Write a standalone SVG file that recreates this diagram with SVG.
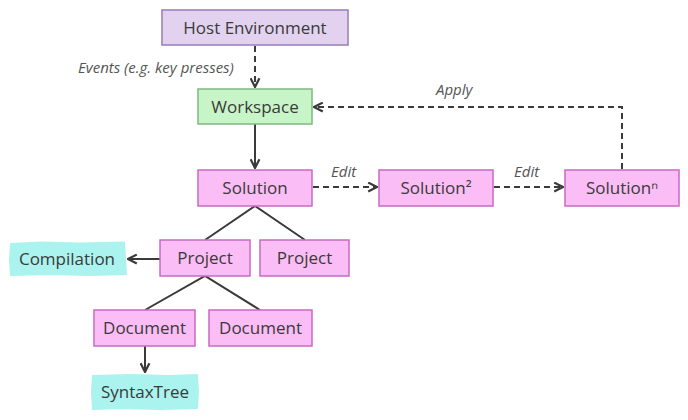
<svg xmlns="http://www.w3.org/2000/svg" width="688" height="420" viewBox="0 0 688 420">
<defs>
<style>
.lbl{font-family:"Open Sans","Noto Sans","DejaVu Sans",sans-serif;font-size:17px;fill:#3a3a3a;text-anchor:middle;}
.it{font-family:"Open Sans","Noto Sans","DejaVu Sans",sans-serif;font-size:15px;font-style:italic;fill:#555;}
.host{fill:#e2d2f0;stroke:#9a7bb8;stroke-width:1.5;}
.ws{fill:#c8f5c8;stroke:#7fb87f;stroke-width:1.5;}
.pink{fill:#fbbdf5;stroke:#c86ac4;stroke-width:1.5;}
.cyan{fill:#aaf3ee;stroke:#aaf3ee;stroke-width:2;stroke-linejoin:round;}
.c{fill:none;stroke:#3a3a3a;stroke-width:2;}
.d{stroke-dasharray:6,4;}
</style>
<marker id="ah" viewBox="0 0 10 10" refX="9" refY="5" markerWidth="5.5" markerHeight="5.5" orient="auto-start-reverse" markerUnits="strokeWidth">
<path d="M1,1 L9,5 L1,9" fill="none" stroke="#3a3a3a" stroke-width="2"/>
</marker>
</defs>
<rect width="688" height="420" fill="#fff"/>
<g id="connectors">
<path class="c d" d="M255,46 V87" marker-end="url(#ah)"/>
<path class="c" d="M255,124 V168" marker-end="url(#ah)"/>
<path class="c d" d="M313,187 H377" marker-end="url(#ah)"/>
<path class="c d" d="M494,187 H563" marker-end="url(#ah)"/>
<path class="c d" d="M622,169 V107 H314" marker-end="url(#ah)"/>
<path class="c" d="M205,240 L255,206 L305,240"/>
<path class="c" d="M160,259 H128" marker-end="url(#ah)"/>
<path class="c" d="M145,310 L205,276 L260,310"/>
<path class="c" d="M145,346 V372" marker-end="url(#ah)"/>
<text class="it" x="78" y="73">Events (e.g. key presses)</text>
<text class="it" x="436" y="95">Apply</text>
<text class="it" x="331" y="177">Edit</text>
<text class="it" x="514" y="177">Edit</text>
</g>
<g id="host"><rect class="host" x="162" y="10" width="186" height="35"/><text class="lbl" x="255" y="33.5">Host Environment</text></g>
<g id="workspace"><rect class="ws" x="198" y="89" width="114" height="35"/><text class="lbl" x="255" y="112.5">Workspace</text></g>
<g id="solution"><rect class="pink" x="198" y="170" width="114" height="36"/><text class="lbl" x="255" y="194">Solution</text></g>
<g id="solution2"><rect class="pink" x="379" y="170" width="114" height="36"/><text class="lbl" x="436" y="194">Solution²</text></g>
<g id="solutionn"><rect class="pink" x="565" y="170" width="114" height="36"/><text class="lbl" x="622" y="194">Solutionⁿ</text></g>
<g id="project1"><rect class="pink" x="160" y="240" width="90" height="36"/><text class="lbl" x="205" y="264">Project</text></g>
<g id="project2"><rect class="pink" x="260" y="240" width="89" height="36"/><text class="lbl" x="304.5" y="264">Project</text></g>
<g id="compilation"><path class="cyan" d="M11,244 L40,242.5 L80,243.5 L124,242.5 L125,258 L126,274 L90,275 L50,274 L11,275 L10,260 Z"/><text class="lbl" x="67" y="265">Compilation</text></g>
<g id="document1"><rect class="pink" x="94" y="310" width="101" height="36"/><text class="lbl" x="144.5" y="334">Document</text></g>
<g id="document2"><rect class="pink" x="209" y="310" width="103" height="36"/><text class="lbl" x="260.5" y="334">Document</text></g>
<g id="syntaxtree"><path class="cyan" d="M93,376 L130,375 L170,376 L197,375 L198,392 L197,408 L160,409 L120,408 L93,409 L92,392 Z"/><text class="lbl" x="145" y="398">SyntaxTree</text></g>
</svg>
